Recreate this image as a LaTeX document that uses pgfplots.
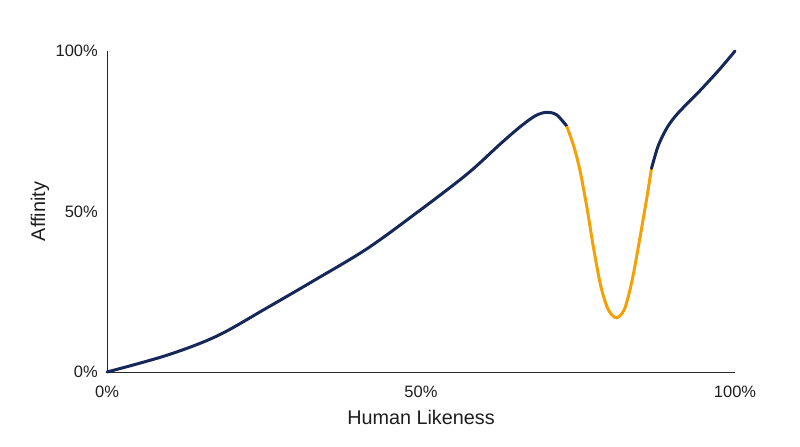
\documentclass[border=0pt]{standalone}
\usepackage{fontspec}
\setmainfont{Liberation Sans}
\usepackage{pgfplots}
\pgfplotsset{compat=1.18}
\definecolor{navy}{RGB}{22,40,88}
\definecolor{amber}{RGB}{245,160,5}
\definecolor{axgray}{RGB}{40,40,40}
\definecolor{txt}{RGB}{30,30,30}
\begin{document}
\begin{tikzpicture}[x=1pt,y=1pt]
\begin{axis}[
  scale only axis,
  width=628pt, height=321pt,
  xmin=0, xmax=100, ymin=0, ymax=100,
  axis lines=left,
  axis line style={axgray, line width=0.9pt, -},
  xtick={0,50,100}, ytick={0,50,100},
  xticklabels={0\%,50\%,100\%},
  yticklabels={0\%,50\%,100\%},
  major tick length=0pt,
  tick style={draw=none},
  xticklabel style={anchor=center, yshift=-20pt, font=\fontsize{16.5}{19}\selectfont, text=txt},
  yticklabel style={anchor=east, inner sep=0pt, xshift=-9pt, font=\fontsize{16.5}{19}\selectfont, text=txt},
  xlabel={Human Likeness},
  ylabel={Affinity},
  xlabel style={at={(axis description cs:0.5,-0.143)}, anchor=center, font=\fontsize{19.8}{23}\selectfont, text=txt},
  ylabel style={at={(axis description cs:-0.1067,0.5)}, anchor=center, rotate=0, font=\fontsize{19.8}{23}\selectfont, text=txt},
  clip=false,
]
\addplot[navy, line width=3pt, line cap=round, smooth, tension=0.55] coordinates {
(0,0) (9.5,5.2) (17.5,11.2) (25.4,19.9) (33.4,29.0) (41.4,38.4) (49.3,49.6) (57.3,61.6) (62.6,71.0) (65.8,76.4) (68.2,79.8) (70.0,80.9) (71.6,80.1) (73.2,76.6)
};
\addplot[amber, line width=3pt, smooth, tension=0.5] coordinates {
(73.2,76.6) (74.3,70.5) (75.3,62.9) (76.4,51.5) (77.4,39.5) (78.6,27) (79.8,19.5) (81.1,16.9) (82.4,19.6) (83.6,28.4) (84.8,41.1) (85.9,53.6) (86.7,63.4)
};
\addplot[navy, line width=3pt, line cap=round, smooth, tension=0.5] coordinates {
(86.7,63.4) (87.8,70.6) (89.3,76.5) (91.0,80.8) (94.4,87.6) (97.5,94.2) (100,100)
};
\coordinate (bl) at (rel axis cs:-0.1704,-0.2336);
\coordinate (tr) at (rel axis cs:1.1035,1.1589);
\end{axis}
\useasboundingbox (bl) rectangle (tr);
\end{tikzpicture}
\end{document}
